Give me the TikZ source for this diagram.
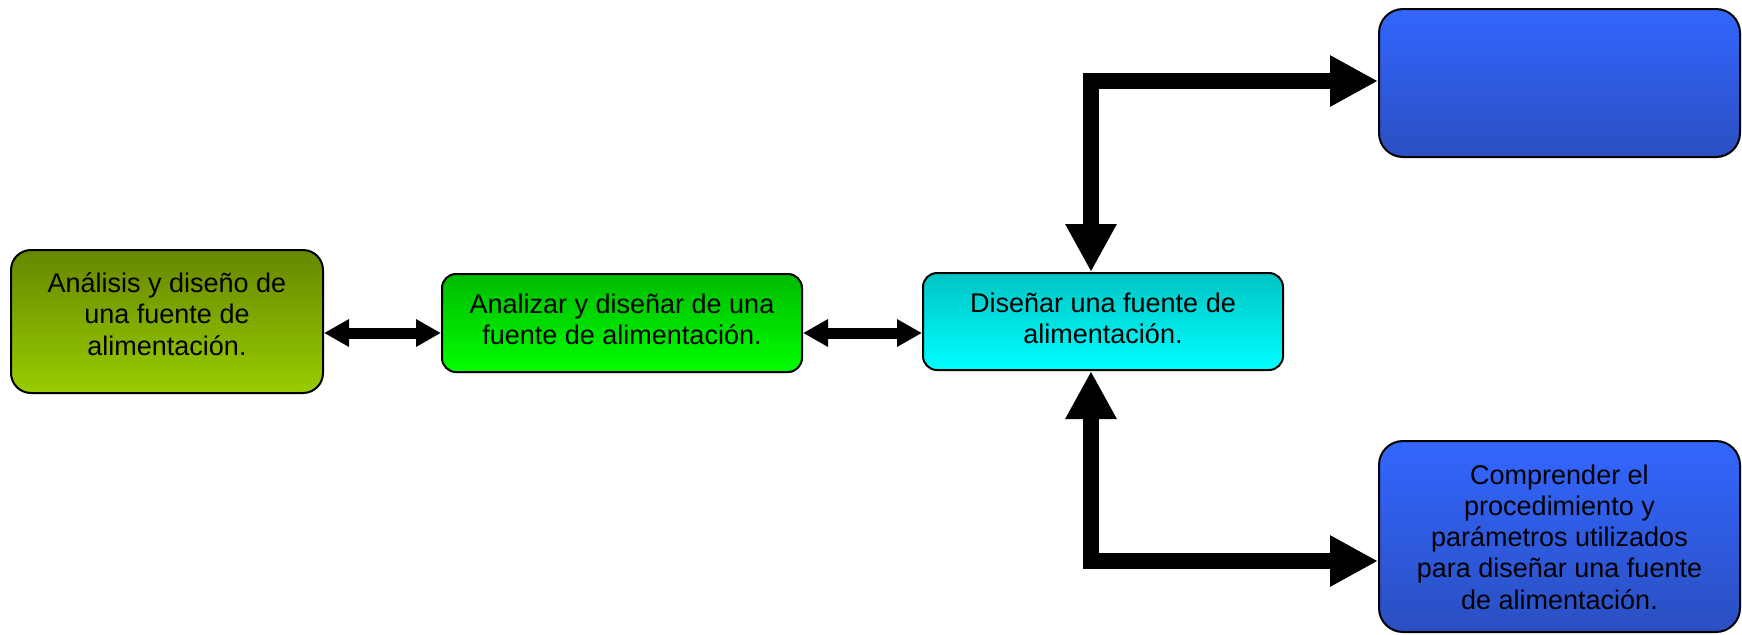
\documentclass[tikz,border=0pt]{standalone}
\usepackage{fontspec}
\setmainfont{Liberation Sans}
\usetikzlibrary{arrows.meta}
\definecolor{oliveTop}{HTML}{668800}
\definecolor{oliveBot}{HTML}{99CC00}
\definecolor{greenTop}{HTML}{00BB00}
\definecolor{greenBot}{HTML}{00FF00}
\definecolor{cyanTop}{HTML}{00C4C4}
\definecolor{cyanBot}{HTML}{00FFFF}
\definecolor{blueTop}{HTML}{3366FF}
\definecolor{blueBot}{HTML}{2A4FC0}
\tikzset{
  box/.style={draw=black, line width=1pt, inner sep=0pt},
  txt/.style={inner sep=0pt, align=center,
    font=\fontsize{13.5pt}{15.6pt}\selectfont},
  smallarr/.style={line width=5.5pt, {Triangle[length=12.5pt,width=13pt]}-{Triangle[length=12.5pt,width=13pt]}},
  bigarr/.style={line width=8pt, line join=miter, {Triangle[length=24pt,width=24pt]}-{Triangle[length=24pt,width=24pt]}}
}
\begin{document}
\begin{tikzpicture}[x=0.5pt,y=-0.5pt]
\path[use as bounding box] (0,0) rectangle (1742,634);
\node[box, rounded corners=10pt, top color=oliveTop, bottom color=oliveBot,
  minimum width=156pt, minimum height=71.5pt] (b1) at (167,321.5) {};
\node[box, rounded corners=7pt, top color=greenTop, bottom color=greenBot,
  minimum width=180pt, minimum height=49pt] (b2) at (622,323) {};
\node[box, rounded corners=7pt, top color=cyanTop, bottom color=cyanBot,
  minimum width=180pt, minimum height=48.5pt] (b3) at (1103,321.5) {};
\node[box, rounded corners=12pt, top color=blueTop, bottom color=blueBot,
  minimum width=180.5pt, minimum height=74pt] (b4) at (1559.5,83) {};
\node[box, rounded corners=12pt, top color=blueTop, bottom color=blueBot,
  minimum width=180.5pt, minimum height=95.5pt] (b5) at (1559.5,536.5) {};
\node[txt] (t1) at (167,314) {Análisis y diseño de\\una fuente de\\alimentación.};
\node[txt] (t2) at (622,319.5) {Analizar y diseñar de una\\fuente de alimentación.};
\node[txt] (t3) at (1103,318.5) {Diseñar una fuente de\\alimentación.};
\node[txt] (t5) at (1559.5,537) {Comprender el\\procedimiento y\\parámetros utilizados\\para diseñar una fuente\\de alimentación.};
\coordinate (h) at (0,333);
\coordinate (c1) at (1091,81);
\coordinate (c2) at (1091,561);
\draw[smallarr] (b1.east |- h) -- (b2.west |- h);
\draw[smallarr] (b2.east |- h) -- (b3.west |- h);
\draw[bigarr] (c1 |- b3.north) -- (c1) -- (c1 -| b4.west);
\draw[bigarr] (c2 |- b3.south) -- (c2) -- (c2 -| b5.west);
\end{tikzpicture}
\end{document}
